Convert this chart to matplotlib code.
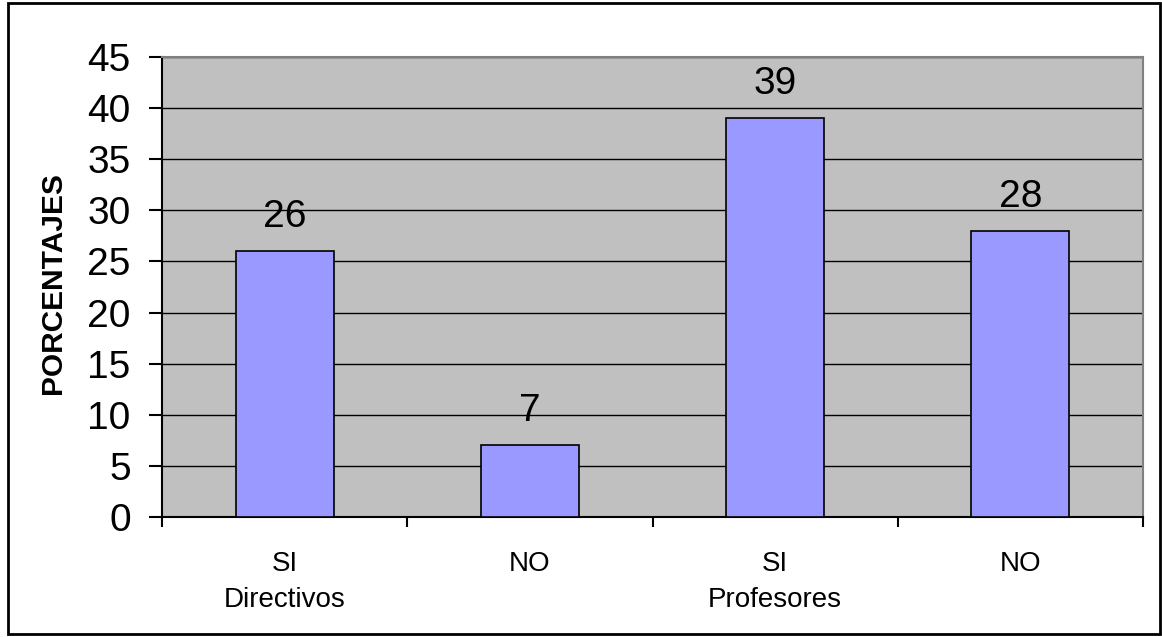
import numpy as np
import matplotlib.pyplot as plt
from matplotlib.patches import Rectangle

plt.rcParams['font.family'] = ['Liberation Sans', 'DejaVu Sans']

# respuestas por grupo
respuestas = ['SI', 'NO', 'SI', 'NO']
grupos = ['Directivos', 'Profesores']
porcentajes = [26, 7, 39, 28]
yticks = np.arange(0, 50, 5)

fig = plt.figure(figsize=(11.62, 6.37), dpi=100)
ax = fig.add_axes([0.1394, 0.1884, 0.8443, 0.7221])
ax.set_facecolor('#C0C0C0')

x = np.arange(len(porcentajes))
ax.bar(x, porcentajes, width=0.4, color='#9999FF', edgecolor='black', linewidth=1.2, zorder=3)

# valor encima de cada barra
for xi, v in zip(x, porcentajes):
    ax.text(xi, v + 2.35, str(v), ha='center', va='baseline', fontsize=28, zorder=4)

ax.set_xlim(-0.5, len(porcentajes) - 0.5)
ax.set_ylim(0, 45)
ax.set_yticks(yticks)
ax.set_yticklabels([str(t) for t in yticks], fontsize=28)
ax.yaxis.grid(True, color='black', linewidth=1.0, zorder=0)
ax.set_axisbelow(True)

# ticks at category boundaries, labels drawn separately
ax.set_xticks(np.arange(-0.5, len(porcentajes), 1.0))
ax.set_xticklabels([])
ax.tick_params(axis='x', direction='out', length=7.5, width=1.5)
ax.tick_params(axis='y', direction='out', length=9.5, width=1.5, pad=13)

xt = ax.get_xaxis_transform()
for xi, r in zip(x, respuestas):
    ax.text(xi, -0.1174, r, transform=xt, ha='center', va='baseline', fontsize=20)
for i, g in enumerate(grupos):
    ax.text(2 * i, -0.1957, g, transform=xt, ha='center', va='baseline', fontsize=20)

ax.spines['left'].set_linewidth(1.5)
ax.spines['bottom'].set_linewidth(1.5)
for s in ['top', 'right']:
    ax.spines[s].set_color('#808080')
    ax.spines[s].set_linewidth(1.5)

fig.text(53 / 1162, 0.5557, 'PORCENTAJES', rotation=90, ha='center', va='center',
         fontsize=21.5, fontweight='bold')

# marco exterior
fig.patches.append(Rectangle((8 / 1162, 3 / 637), 1152 / 1162, 631 / 637, transform=fig.transFigure,
                             fill=False, edgecolor='black', linewidth=2))

fig.savefig('out.png', dpi=100)
